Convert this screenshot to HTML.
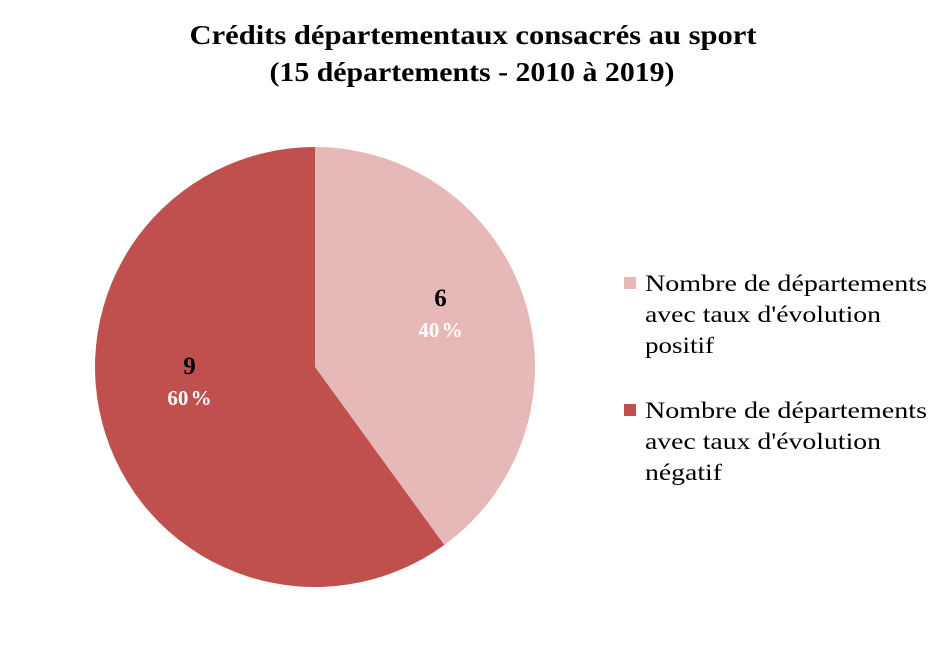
<!DOCTYPE html>
<html>
<head>
<meta charset="utf-8">
<style>
  html, body { margin: 0; padding: 0; background: #fff; }
  body { width: 945px; height: 643px; overflow: hidden; font-family: "Liberation Serif", serif; }
  svg text { font-family: "Liberation Serif", serif; }
</style>
</head>
<body>
<svg id="chart" width="945" height="643" viewBox="0 0 945 643" xmlns="http://www.w3.org/2000/svg">
  <text x="473" y="44" text-anchor="middle" font-size="27" font-weight="bold" fill="#000" textLength="567" lengthAdjust="spacingAndGlyphs">Crédits départementaux consacrés au sport</text>
  <text x="472" y="81" text-anchor="middle" font-size="27" font-weight="bold" fill="#000" textLength="405" lengthAdjust="spacingAndGlyphs">(15 départements - 2010 à 2019)</text>
  <g id="slices"></g>
  <g id="labels"></g>
  <g>
    <rect x="624" y="277" width="12" height="12" fill="#E6B8B7"/>
    <text font-size="23" fill="#000">
      <tspan x="645" y="291" textLength="282" lengthAdjust="spacingAndGlyphs">Nombre de départements</tspan>
      <tspan x="645" y="322" textLength="236" lengthAdjust="spacingAndGlyphs">avec taux d'évolution</tspan>
      <tspan x="645" y="353" textLength="69" lengthAdjust="spacingAndGlyphs">positif</tspan>
    </text>
    <rect x="624" y="404" width="12" height="12" fill="#C0504D"/>
    <text font-size="23" fill="#000">
      <tspan x="645" y="418" textLength="282" lengthAdjust="spacingAndGlyphs">Nombre de départements</tspan>
      <tspan x="645" y="449" textLength="236" lengthAdjust="spacingAndGlyphs">avec taux d'évolution</tspan>
      <tspan x="645" y="480" textLength="77" lengthAdjust="spacingAndGlyphs">négatif</tspan>
    </text>
  </g>
</svg>
<script>
const categories = ["positif", "négatif"];
const values = [6, 9];
const percentLabels = ["40 %", "60 %"];
const colors = ["#E6B8B7", "#C0504D"];

const cx = 315, cy = 367, r = 220;
const total = values.reduce((a, b) => a + b, 0);
const NS = "http://www.w3.org/2000/svg";
const gS = document.getElementById("slices");
const gL = document.getElementById("labels");
function pt(a, rad) { return [cx + rad * Math.sin(a), cy - rad * Math.cos(a)]; }
let start = 0;
values.forEach((v, i) => {
  const sweep = v / total * 2 * Math.PI;
  const end = start + sweep;
  const [x1, y1] = pt(start, r);
  const [x2, y2] = pt(end, r);
  const large = sweep > Math.PI ? 1 : 0;
  const p = document.createElementNS(NS, "path");
  p.setAttribute("d", `M${cx},${cy} L${x1},${y1} A${r},${r} 0 ${large} 1 ${x2},${y2} Z`);
  p.setAttribute("fill", colors[i]);
  
  
  gS.appendChild(p);
  const mid = start + sweep / 2;
  const lx = cx + 0.6 * r * Math.sin(mid);
  const ly = cy - 0.5 * r * Math.cos(mid) - 20;
  const t1 = document.createElementNS(NS, "text");
  t1.setAttribute("x", lx); t1.setAttribute("y", ly - 7);
  t1.setAttribute("text-anchor", "middle");
  t1.setAttribute("font-size", "25"); t1.setAttribute("font-weight", "bold");
  t1.setAttribute("fill", "#000");
  t1.textContent = values[i];
  
  
  gL.appendChild(t1);
  const t2 = document.createElementNS(NS, "text");
  t2.setAttribute("x", lx); t2.setAttribute("y", ly + 24);
  t2.setAttribute("text-anchor", "middle");
  t2.setAttribute("font-size", "21"); t2.setAttribute("font-weight", "bold");
  t2.setAttribute("fill", "#fff");
  t2.setAttribute("word-spacing", "-3");
  t2.textContent = percentLabels[i];
  
  
  gL.appendChild(t2);
  start = end;
});
</script>
</body>
</html>
